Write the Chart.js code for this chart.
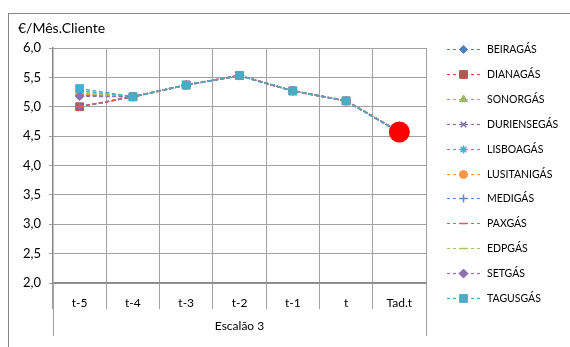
<!DOCTYPE html>
<html>
<head>
<meta charset="utf-8">
<script src="https://cdn.jsdelivr.net/npm/chart.js@4/dist/chart.umd.min.js"></script>
<style>
  html, body { margin: 0; padding: 0; background: #fff; }
  #wrap { position: relative; width: 570px; height: 347px; }
</style>
</head>
<body>
<div id="wrap"><canvas id="tarifas"></canvas></div>
<script>
// categories on the x axis
const categories = ['t-5', 't-4', 't-3', 't-2', 't-1', 't', 'Tad.t'];
const yTicks = [2.0, 2.5, 3.0, 3.5, 4.0, 4.5, 5.0, 5.5, 6.0];

// €/Mês.Cliente, Escalão 3
const beiragas    = [5.20, 5.17, 5.37, 5.53, 5.27, 5.10, 4.57];
const dianagas    = [5.00, 5.17, 5.37, 5.53, 5.27, 5.10, 4.57];
const sonorgas    = [5.22, 5.17, 5.37, 5.53, 5.27, 5.10, 4.57];
const duriensegas = [5.00, 5.17, 5.37, 5.53, 5.27, 5.10, 4.57];
const lisboagas   = [5.27, 5.17, 5.37, 5.53, 5.27, 5.10, 4.57];
const lusitanigas = [5.23, 5.17, 5.37, 5.53, 5.27, 5.10, 4.57];
const medigas     = [5.00, 5.17, 5.37, 5.53, 5.27, 5.10, 4.57];
const paxgas      = [5.00, 5.17, 5.37, 5.53, 5.27, 5.10, 4.57];
const edpgas      = [5.24, 5.17, 5.37, 5.53, 5.27, 5.10, 4.57];
const setgas      = [5.18, 5.17, 5.37, 5.53, 5.27, 5.10, 4.57];
const tagusgas    = [5.31, 5.17, 5.37, 5.53, 5.27, 5.10, 4.57];
// highlighted adjusted tariff
const tarifaAdj   = [null, null, null, null, null, null, 4.57];

const FONT = 'Lato, "Noto Sans", sans-serif';

function serie(label, data, color, style, radius, idx) {
    const filled = ['rectRot', 'rect', 'triangle', 'circle'].includes(style);
    return {
        label: label,
        data: data,
        borderColor: color,
        borderWidth: 1.5,
        borderDash: [4, 2.5],
        backgroundColor: color,
        pointStyle: style,
        pointRadius: radius,
        pointBackgroundColor: filled ? color : 'rgba(0,0,0,0)',
        pointBorderColor: color,
        pointBorderWidth: filled ? 1 : 1.5,
        tension: 0,
        order: 20 - idx
    };
}

const datasets = [
    serie('BEIRAGÁS', beiragas, '#4F81BD', 'rectRot', 4, 0),
    serie('DIANAGÁS', dianagas, '#C0504D', 'rect', 5.5, 1),
    serie('SONORGÁS', sonorgas, '#9BBB59', 'triangle', 4.5, 2),
    serie('DURIENSEGÁS', duriensegas, '#8064A2', 'crossRot', 4, 3),
    serie('LISBOAGÁS', lisboagas, '#4BACC6', 'star', 4, 4),
    serie('LUSITANIGÁS', lusitanigas, '#F79646', 'circle', 4, 5),
    serie('MEDIGÁS', medigas, '#5B8BD0', 'cross', 4, 6),
    serie('PAXGÁS', paxgas, '#D9615C', 'line', 4, 7),
    serie('EDPGÁS', edpgas, '#A6C760', 'line', 4, 8),
    serie('SETGÁS', setgas, '#8E72B0', 'rectRot', 4.5, 9),
    serie('TAGUSGÁS', tagusgas, '#4BACC6', 'rect', 5.5, 10),
    {
        label: 'Tad',
        data: tarifaAdj,
        showLine: false,
        pointStyle: 'circle',
        pointRadius: 10.5,
        pointBackgroundColor: '#FF0000',
        pointBorderColor: '#FF0000',
        pointBorderWidth: 0,
        hideInLegend: true,
        order: 0
    }
];

// frame, title, outer category separators and the legend
const extras = {
    id: 'extras',
    beforeDraw(chart) {
        const ctx = chart.ctx;
        ctx.save();
        ctx.fillStyle = '#fff';
        ctx.fillRect(0, 0, chart.width, chart.height);
        ctx.strokeStyle = '#878787';
        ctx.lineWidth = 1;
        ctx.strokeRect(8.5, 13.5, 640, 400);
        ctx.fillStyle = '#000';
        ctx.font = '14px ' + FONT;
        ctx.textBaseline = 'middle';
        ctx.fillText('€/Mês.Cliente', 18, 28);
        ctx.restore();
    },
    afterDraw(chart) {
        const ctx = chart.ctx;
        const area = chart.chartArea;
        ctx.save();
        ctx.strokeStyle = '#A0A0A0';
        ctx.lineWidth = 1;
        [area.left, area.right].forEach(x => {
            const px = Math.round(x) + 0.5;
            ctx.beginPath();
            ctx.moveTo(px, area.bottom);
            ctx.lineTo(px, 336);
            ctx.stroke();
        });

        const lx0 = 447, lx1 = 480, mx = 463.5, tx = 487, y0 = 49, dy = 24.9;
        ctx.font = '10.5px ' + FONT;
        ctx.textBaseline = 'middle';
        chart.data.datasets.forEach((ds, i) => {
            if (ds.hideInLegend) return;
            const y = Math.round(y0 + dy * i) + 0.5;
            ctx.setLineDash([3, 3]);
            ctx.strokeStyle = ds.borderColor;
            ctx.lineWidth = 1.2;
            ctx.beginPath();
            ctx.moveTo(lx0, y);
            ctx.lineTo(lx1, y);
            ctx.stroke();
            ctx.setLineDash([]);
            ctx.fillStyle = ds.pointBackgroundColor;
            ctx.strokeStyle = ds.pointBorderColor;
            ctx.lineWidth = ds.pointBorderWidth;
            Chart.helpers.drawPoint(ctx, {
                pointStyle: ds.pointStyle,
                radius: ds.pointRadius,
                borderWidth: ds.pointBorderWidth,
                rotation: 0
            }, mx, y);
            ctx.fillStyle = '#000';
            ctx.fillText(ds.label, tx, y);
        });
        ctx.restore();
    }
};

const chart = new Chart(document.getElementById('tarifas'), {
    type: 'line',
    data: { labels: categories, datasets: datasets },
    plugins: [extras],
    options: {
        responsive: true,
        maintainAspectRatio: false,
        animation: false,
        layout: { padding: { top: 48, right: 144, bottom: 0, left: 0 } },
        plugins: {
            legend: { display: false },
            tooltip: { enabled: false },
            title: { display: false }
        },
        scales: {
            x: {
                offset: true,
                grid: { offset: true, color: '#A0A0A0', tickLength: 26, drawTicks: true },
                border: { color: '#868686', width: 1.5 },
                ticks: { color: '#000', font: { family: FONT, size: 12 }, padding: -13, maxRotation: 0 },
                title: { display: true, text: 'Escalão 3', color: '#000', font: { family: FONT, size: 12 }, padding: { top: 0, bottom: 14 } },
                afterFit(scale) { scale.height = 64; }
            },
            y: {
                min: 2,
                max: 6,
                afterBuildTicks(scale) { scale.ticks = yTicks.map(v => ({ value: v })); },
                grid: { color: '#A0A0A0', tickLength: 4 },
                border: { color: '#868686', width: 1.5 },
                ticks: {
                    color: '#000',
                    font: { family: FONT, size: 13 },
                    padding: 8,
                    callback: v => v.toFixed(1).replace('.', ',')
                },
                afterFit(scale) { scale.width = 53; }
            }
        }
    }
});
</script>
</body>
</html>
